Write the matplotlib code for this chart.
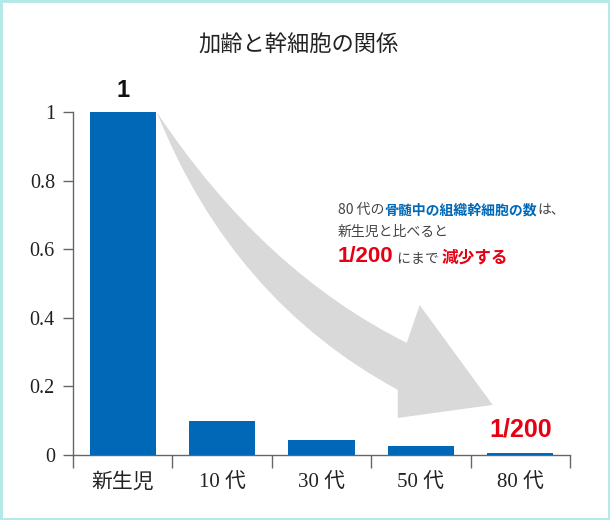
import numpy as np
import matplotlib
matplotlib.use("Agg")
import matplotlib.pyplot as plt
from matplotlib.path import Path
from matplotlib.patches import PathPatch, Rectangle
from matplotlib.offsetbox import TextArea, HPacker, VPacker, AnchoredOffsetbox

plt.rcParams['font.family'] = ['Liberation Serif', 'Noto Sans CJK JP', 'DejaVu Sans']

# data
categories = ["新生児", "10 代", "30 代", "50 代", "80 代"]
values = [1.0, 0.1, 0.045, 0.025, 0.005]
yticks = [0, 0.2, 0.4, 0.6, 0.8, 1]
ytick_labels = ["0", "0.2", "0.4", "0.6", "0.8", "1"]

title = "加齢と幹細胞の関係"
top_label = "1"
end_label = "1/200"

bar_color = "#0068b7"
red = "#e60012"
gray_text = "#444444"
axis_color = "#666666"

fig = plt.figure(figsize=(6.1, 5.2), dpi=100)
ax = fig.add_axes([73 / 610, 65 / 520, 497 / 610, 343 / 520])

x = np.arange(len(categories))
ax.bar(x, values, width=0.665, color=bar_color, zorder=3)

# big grey curved arrow (decoration)
verts = [(0.342, 1.0),
         (1.408, 0.536), (2.857, 0.327),
         (2.988, 0.437),
         (3.722, 0.146),
         (2.767, 0.108),
         (2.767, 0.190),
         (1.097, 0.452), (0.342, 1.0),
         (0.342, 1.0)]
codes = [Path.MOVETO,
         Path.CURVE3, Path.CURVE3,
         Path.LINETO,
         Path.LINETO,
         Path.LINETO,
         Path.LINETO,
         Path.CURVE3, Path.CURVE3,
         Path.CLOSEPOLY]
ax.add_patch(PathPatch(Path(verts, codes), facecolor="#d9d9d9", edgecolor="none", zorder=1))

ax.set_xlim(-0.5, len(categories) - 0.5)
ax.set_ylim(0, 1)

for s in ["top", "right"]:
    ax.spines[s].set_visible(False)
for s in ["left", "bottom"]:
    ax.spines[s].set_color(axis_color)
    ax.spines[s].set_linewidth(1)

ax.set_yticks(yticks)
ax.set_yticklabels(ytick_labels)
ax.tick_params(axis="y", direction="out", length=7, width=1, color=axis_color,
               labelsize=14.5, labelcolor="#222222", pad=6)

ax.set_xticks(x)
ax.set_xticklabels(categories)
ax.set_xticks(np.arange(len(categories) + 1) - 0.5, minor=True)
ax.tick_params(axis="x", which="major", length=0, labelsize=15, labelcolor="#222222", pad=13)
ax.tick_params(axis="x", which="minor", direction="out", length=9, width=1, color=axis_color)

# value labels
ax.text(x[0], values[0] + 0.03, top_label, ha="center", va="bottom",
        fontsize=17, fontweight="bold", family="Liberation Sans", color="#111111", clip_on=False)
ax.text(x[-1], values[-1] + 0.035, end_label, ha="center", va="bottom",
        fontsize=18, fontweight="bold", family="Liberation Sans", color=red)

# title
fig.text(0.49, 1 - 45 / 520, title, ha="center", va="center", fontsize=16,
         family="Noto Sans CJK JP", color="#222222")

# annotation text with mixed styles
def piece(s, color, size, weight="normal", fam="Noto Sans CJK JP"):
    return TextArea(s, textprops=dict(color=color, fontsize=size, fontweight=weight, family=fam))

line1 = HPacker(children=[piece("80 代の", gray_text, 10),
                          piece("骨髄中の組織幹細胞の数", bar_color, 10, "bold"),
                          piece("は、", gray_text, 10)],
                align="baseline", pad=0, sep=0)
line2 = HPacker(children=[piece("新生児と比べると", gray_text, 10)],
                align="baseline", pad=0, sep=0)
line3 = HPacker(children=[piece("1/200", red, 16, "bold", "Liberation Sans"),
                          piece(" にまで ", gray_text, 10),
                          piece("減少する", red, 12, "bold")],
                align="baseline", pad=0, sep=0)
block = VPacker(children=[line1, line2, line3], align="left", pad=0, sep=5.5)
box = AnchoredOffsetbox(loc="upper left", child=block, pad=0, borderpad=0, frameon=False,
                        bbox_to_anchor=(338 / 610, 1 - 203 / 520), bbox_transform=fig.transFigure)
fig.add_artist(box)

# light cyan frame
fig.add_artist(Rectangle((0, 0), 1, 1, transform=fig.transFigure, fill=False,
                         edgecolor="#b3e9e9", linewidth=3.5))

fig.savefig("out.png", dpi=100)
